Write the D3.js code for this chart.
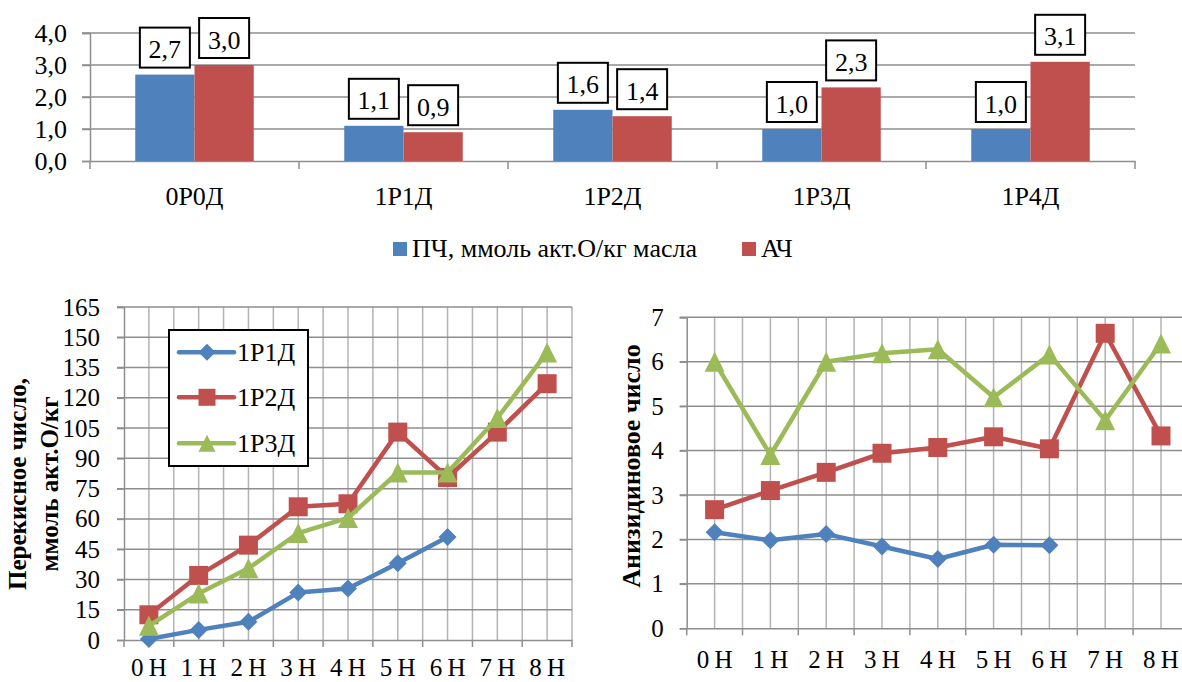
<!DOCTYPE html>
<html>
<head>
<meta charset="utf-8">
<script src="https://cdn.jsdelivr.net/npm/d3@7"></script>
<style>
  body { margin: 0; background: #fff; }
  svg { display: block; }
  text { font-family: "Liberation Serif", "Times New Roman", serif; fill: #000; }
</style>
</head>
<body>
<svg id="chart" width="1182" height="682"></svg>
<script>
// ---- Bar chart: peroxide and anisidine values per sample ----
const samples = ["0Р0Д", "1Р1Д", "1Р2Д", "1Р3Д", "1Р4Д"];
const barSeriesNames = ["ПЧ, ммоль акт.О/кг масла", "АЧ"];
const pvValues = [2.7, 1.1, 1.6, 1.0, 1.0];
const avValues = [3.0, 0.9, 1.4, 2.3, 3.1];
const barTicks = [0, 1, 2, 3, 4];

// ---- Line charts: dynamics over hours ----
const hours = ["0 Н", "1 Н", "2 Н", "3 Н", "4 Н", "5 Н", "6 Н", "7 Н", "8 Н"];
const lineSeriesNames = ["1Р1Д", "1Р2Д", "1Р3Д"];
const peroxide1R1D = [0.5, 5, 9, 23.5, 25.5, 38, 51];
const peroxide1R2D = [12.5, 32, 47, 66, 67.5, 103, 80.5, 103, 127];
const peroxide1R3D = [7, 23, 35.5, 53, 60.5, 83, 83, 110, 142.5];
const peroxideTicks = [0, 15, 30, 45, 60, 75, 90, 105, 120, 135, 150, 165];
const anisidine1R1D = [2.16, 1.98, 2.12, 1.84, 1.56, 1.88, 1.87];
const anisidine1R2D = [2.67, 3.1, 3.51, 3.94, 4.07, 4.31, 4.04, 6.64, 4.33];
const anisidine1R3D = [6.0, 3.9, 6.0, 6.19, 6.28, 5.2, 6.16, 4.68, 6.41];
const anisidineTicks = [0, 1, 2, 3, 4, 5, 6, 7];

const BLUE = "#4F81BD", RED = "#C0504D", GREEN = "#9BBB59";
const GRID = "#8e8e8e", GRID_V = "#b3b3b3";
const fmtComma = d => d3.format(".1f")(d).replace(".", ",");

const svg = d3.select("#chart");

// ================= Bar chart =================
(function barChart() {
  const g = svg.append("g");
  const x = d3.scaleBand().domain(samples).range([90, 1135]).paddingInner(0.433).paddingOuter(0.2165);
  const y = d3.scaleLinear().domain([0, 4]).range([161, 33]);
  const sub = d3.scaleBand().domain(barSeriesNames).range([0, x.bandwidth()]);
  const colors = [BLUE, RED];

  // horizontal gridlines
  g.append("g").selectAll("line").data(barTicks.filter(d => d > 0)).join("line")
    .attr("x1", 82).attr("x2", 1135)
    .attr("y1", d => y(d)).attr("y2", d => y(d))
    .attr("stroke", GRID).attr("stroke-width", 1.5);

  // y axis
  const ya = g.append("g").attr("transform", "translate(90,0)")
    .call(d3.axisLeft(y).tickValues(barTicks).tickFormat(fmtComma).tickSize(8).tickPadding(15));
  ya.selectAll("path,line").attr("stroke", GRID).attr("stroke-width", 1.5);
  ya.selectAll("text").attr("font-size", 26).attr("font-family", "Liberation Serif");

  // x axis (labels centred in bands, ticks on band boundaries)
  const xa = g.append("g").attr("transform", "translate(0,161)")
    .call(d3.axisBottom(x).tickSize(0).tickPadding(25.5));
  xa.select(".domain").attr("stroke", GRID).attr("stroke-width", 1.5);
  xa.selectAll("text").attr("font-size", 26).attr("font-family", "Liberation Serif");
  const bounds = d3.range(samples.length + 1).map(i => x.range()[0] + i * x.step());
  g.append("g").selectAll("line").data(bounds).join("line")
    .attr("x1", d => d).attr("x2", d => d).attr("y1", 161).attr("y2", 169)
    .attr("stroke", GRID).attr("stroke-width", 1.5);

  // bars
  const rows = samples.map((s, i) => ({ s, vals: [pvValues[i], avValues[i]] }));
  const grp = g.append("g").selectAll("g").data(rows).join("g")
    .attr("transform", d => `translate(${x(d.s)},0)`);
  grp.selectAll("rect").data(d => d.vals.map((v, k) => ({ v, k }))).join("rect")
    .attr("x", d => sub(barSeriesNames[d.k]))
    .attr("width", sub.bandwidth())
    .attr("y", d => y(d.v))
    .attr("height", d => y(0) - y(d.v))
    .attr("fill", d => colors[d.k]);

  // value labels in boxes
  const lab = grp.selectAll("g.lab").data(d => d.vals.map((v, k) => ({ v, k }))).join("g").attr("class", "lab")
    .attr("transform", d => `translate(${sub(barSeriesNames[d.k]) + sub.bandwidth() / 2},${y(d.v) - 7})`);
  lab.append("rect").attr("x", -25).attr("y", -40).attr("width", 50).attr("height", 40)
    .attr("fill", "#fff").attr("stroke", "#000").attr("stroke-width", 2);
  lab.append("text").attr("text-anchor", "middle").attr("y", -9.5).attr("font-size", 26)
    .text(d => fmtComma(d.v));

  // legend
  const legX = [393, 742];
  const leg = g.append("g").selectAll("g").data(barSeriesNames).join("g")
    .attr("transform", (d, i) => `translate(${legX[i]},0)`);
  leg.append("rect").attr("x", 0).attr("y", 242).attr("width", 14).attr("height", 14)
    .attr("fill", (d, i) => colors[i]);
  leg.append("text").attr("x", 19).attr("y", 257).attr("font-size", 26).text(d => d);
})();

// ================= Markers =================
function markerPath(type, s) {
  const h = s / 2;
  if (type === "diamond") return `M0,${-h}L${h},0L0,${h}L${-h},0Z`;
  if (type === "square") return `M${-h},${-h}H${h}V${h}H${-h}Z`;
  return `M0,${-h}L${h},${h}L${-h},${h}Z`;
}
const seriesStyle = [
  { color: BLUE, marker: "diamond", size: 18 },
  { color: RED, marker: "square", size: 19 },
  { color: GREEN, marker: "triangle", size: 20 }
];

function lineChart(cfg) {
  const g = svg.append("g");
  const x = d3.scaleBand().domain(hours).range([cfg.x0, cfg.x1]);
  const y = d3.scaleLinear().domain([0, cfg.ticks[cfg.ticks.length - 1]]).range([cfg.y0, cfg.y1]);
  const half = x.step() / 2;

  // vertical gridlines: at band boundaries and band centres
  const vlines = d3.range(hours.length * 2 + 1).map(i => cfg.x0 + i * half).filter(v => v > cfg.x0 + 0.5);
  g.append("g").selectAll("line").data(vlines).join("line")
    .attr("x1", d => d).attr("x2", d => d).attr("y1", cfg.y1).attr("y2", cfg.y0)
    .attr("stroke", GRID_V).attr("stroke-width", 1.5);
  // horizontal gridlines
  g.append("g").selectAll("line").data(cfg.ticks.filter(d => d > 0)).join("line")
    .attr("x1", cfg.x0 - 7).attr("x2", cfg.x1)
    .attr("y1", d => y(d)).attr("y2", d => y(d))
    .attr("stroke", GRID).attr("stroke-width", 1.5);

  // axes
  const ya = g.append("g").attr("transform", `translate(${cfg.x0},0)`)
    .call(d3.axisLeft(y).tickValues(cfg.ticks).tickSize(7).tickPadding(cfg.yPad).tickFormat(d3.format("d")));
  ya.selectAll("path,line").attr("stroke", GRID).attr("stroke-width", 1.5);
  ya.selectAll("text").attr("font-size", 25).attr("font-family", "Liberation Serif");

  const xa = g.append("g").attr("transform", `translate(0,${cfg.y0})`)
    .call(d3.axisBottom(x).tickSize(0).tickPadding(cfg.xPad));
  xa.select(".domain").attr("stroke", GRID).attr("stroke-width", 1.5);
  xa.selectAll("text").attr("font-size", 25).attr("font-family", "Liberation Serif").attr("word-spacing", -1);
  const bounds = d3.range(hours.length + 1).map(i => cfg.x0 + i * x.step());
  g.append("g").selectAll("line").data(bounds).join("line")
    .attr("x1", d => d).attr("x2", d => d).attr("y1", cfg.y0).attr("y2", cfg.y0 + 7)
    .attr("stroke", GRID).attr("stroke-width", 1.5);

  // axis title
  const title = g.append("text").attr("font-weight", "bold").attr("font-size", cfg.titleSize)
    .attr("text-anchor", "middle")
    .attr("transform", `translate(${cfg.titleX},${cfg.titleY}) rotate(-90)`);
  cfg.title.forEach((line, i) => {
    title.append("tspan").attr("x", 0).attr("y", i * cfg.titleGap).text(line);
  });

  // series
  const line = d3.line().x((d, i) => x(hours[i]) + half).y(d => y(d));
  cfg.series.forEach((vals, k) => {
    const st = seriesStyle[k];
    const sg = g.append("g");
    sg.append("path").datum(vals).attr("d", line).attr("fill", "none")
      .attr("stroke", st.color).attr("stroke-width", 4.5).attr("stroke-linejoin", "round");
    sg.selectAll("path.m").data(vals).join("path").attr("class", "m")
      .attr("d", markerPath(st.marker, st.size))
      .attr("transform", (d, i) => `translate(${x(hours[i]) + half},${y(d)})`)
      .attr("fill", st.color);
  });

  if (cfg.legend) {
    const L = cfg.legend;
    const lg = g.append("g");
    lg.append("rect").attr("x", L.x).attr("y", L.y).attr("width", L.w).attr("height", L.h)
      .attr("fill", "#fff").attr("stroke", "#000").attr("stroke-width", 2);
    const items = lg.selectAll("g").data(lineSeriesNames).join("g")
      .attr("transform", (d, i) => `translate(${L.x},${L.rows[i]})`);
    items.append("line").attr("x1", 10).attr("x2", 65).attr("y1", 0).attr("y2", 0)
      .attr("stroke", (d, i) => seriesStyle[i].color).attr("stroke-width", 4.5).attr("stroke-linecap", "round");
    items.append("path").attr("d", (d, i) => markerPath(seriesStyle[i].marker, 17))
      .attr("transform", "translate(38,0)").attr("fill", (d, i) => seriesStyle[i].color);
    items.append("text").attr("x", 68).attr("y", 9).attr("font-size", 26).text(d => d);
  }
}

lineChart({
  x0: 124, x1: 572, y0: 640, y1: 307, ticks: peroxideTicks, yPad: 17, xPad: 18,
  series: [peroxide1R1D, peroxide1R2D, peroxide1R3D],
  title: ["Перекисное число,", "ммоль акт.О/кг"], titleX: 26, titleY: 484, titleGap: 32, titleSize: 25,
  legend: { x: 169, y: 330, w: 139, h: 136, rows: [352.3, 397.3, 443.3] }
});

lineChart({
  x0: 686.7, x1: 1188.9, y0: 628.3, y1: 317.3, ticks: anisidineTicks, yPad: 16, xPad: 22,
  series: [anisidine1R1D, anisidine1R2D, anisidine1R3D],
  title: ["Анизидиновое число"], titleX: 640, titleY: 466, titleGap: 0, titleSize: 26
});
</script>
</body>
</html>
